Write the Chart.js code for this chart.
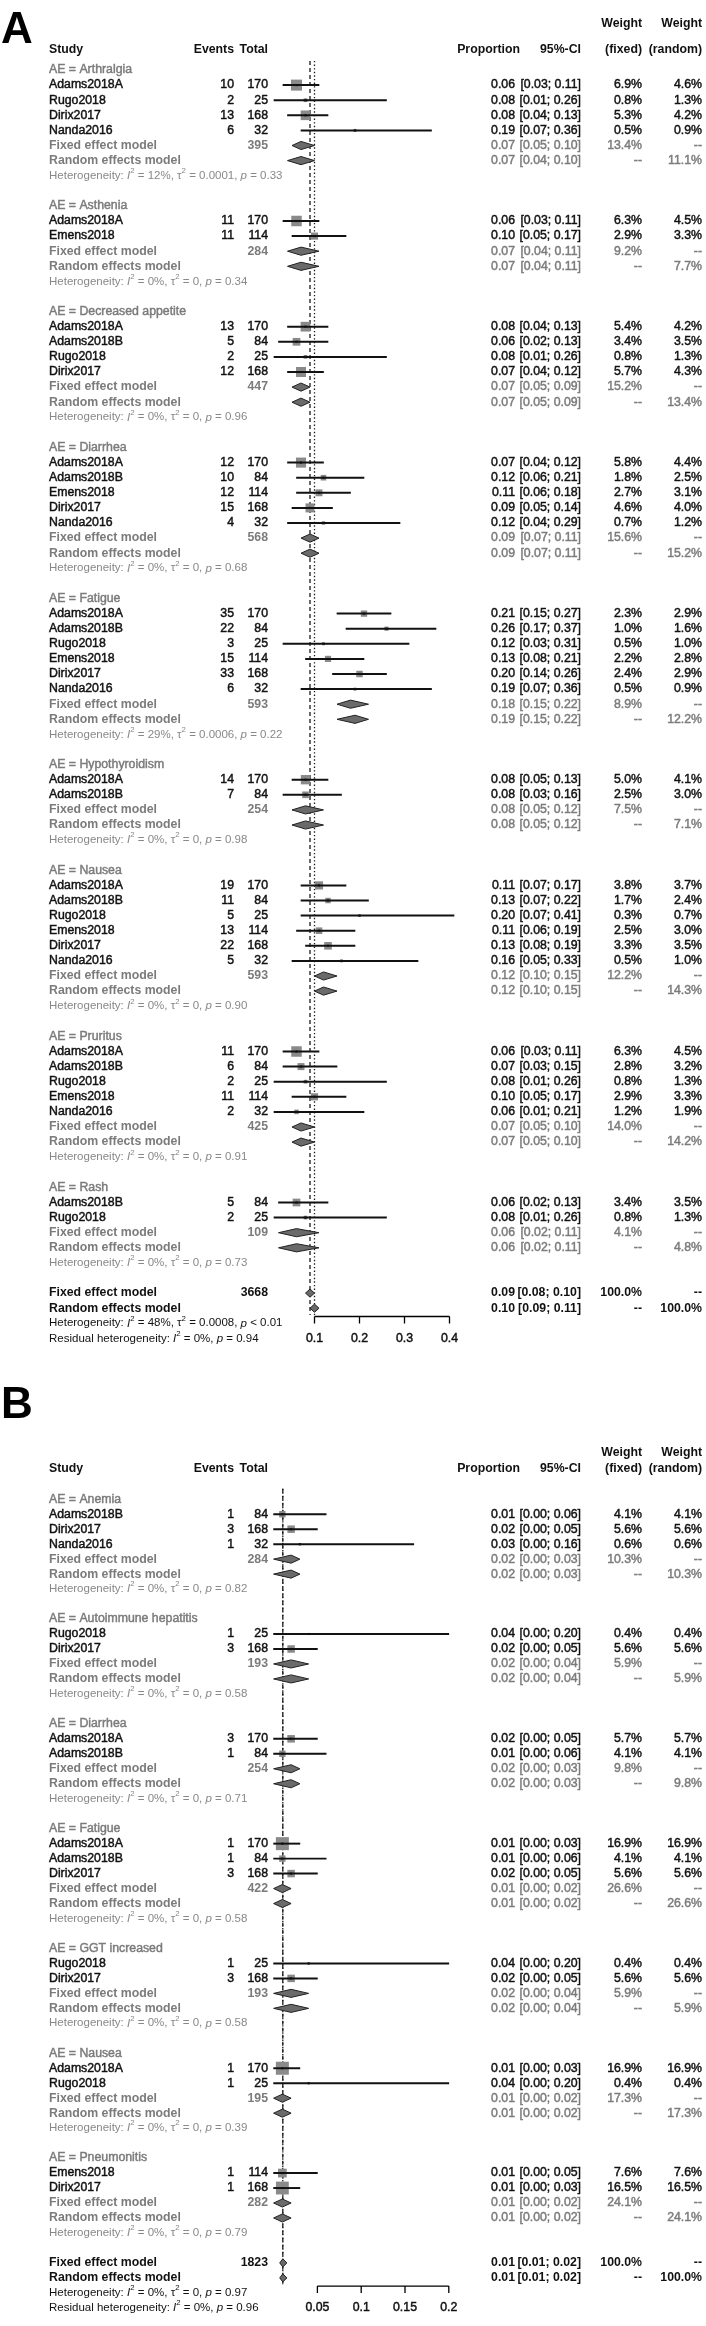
<!DOCTYPE html>
<html>
<head>
<meta charset="utf-8">
<title>Forest plots of adverse events</title>
<script src="https://cdn.jsdelivr.net/npm/chart.js@4.4.1/dist/chart.umd.min.js"></script>
<style>
html, body { margin: 0; padding: 0; background: #fff; }
#wrap { position: relative; width: 706px; height: 2326px; }
#wrap canvas { position: absolute; left: 0; top: 0; }
</style>
</head>
<body>
<div id="wrap">
<canvas id="forestA" width="706" height="2326"></canvas>
<canvas id="forestB" width="706" height="2326"></canvas>
</div>
<script>
// ---------- Panel A ----------
const aeA = ['Arthralgia', 'Asthenia', 'Decreased appetite', 'Diarrhea', 'Fatigue', 'Hypothyroidism', 'Nausea', 'Pruritus', 'Rash'];
const studyA = [
    ['Adams2018A', 'Rugo2018', 'Dirix2017', 'Nanda2016'],
    ['Adams2018A', 'Emens2018'],
    ['Adams2018A', 'Adams2018B', 'Rugo2018', 'Dirix2017'],
    ['Adams2018A', 'Adams2018B', 'Emens2018', 'Dirix2017', 'Nanda2016'],
    ['Adams2018A', 'Adams2018B', 'Rugo2018', 'Emens2018', 'Dirix2017', 'Nanda2016'],
    ['Adams2018A', 'Adams2018B'],
    ['Adams2018A', 'Adams2018B', 'Rugo2018', 'Emens2018', 'Dirix2017', 'Nanda2016'],
    ['Adams2018A', 'Adams2018B', 'Rugo2018', 'Emens2018', 'Nanda2016'],
    ['Adams2018B', 'Rugo2018']
];
const eventsA = [[10, 2, 13, 6], [11, 11], [13, 5, 2, 12], [12, 10, 12, 15, 4], [35, 22, 3, 15, 33, 6], [14, 7], [19, 11, 5, 13, 22, 5], [11, 6, 2, 11, 2], [5, 2]];
const totalA = [[170, 25, 168, 32], [170, 114], [170, 84, 25, 168], [170, 84, 114, 168, 32], [170, 84, 25, 114, 168, 32], [170, 84], [170, 84, 25, 114, 168, 32], [170, 84, 25, 114, 32], [84, 25]];
const propA = [[0.06, 0.08, 0.08, 0.19], [0.06, 0.10], [0.08, 0.06, 0.08, 0.07], [0.07, 0.12, 0.11, 0.09, 0.12], [0.21, 0.26, 0.12, 0.13, 0.20, 0.19], [0.08, 0.08], [0.11, 0.13, 0.20, 0.11, 0.13, 0.16], [0.06, 0.07, 0.08, 0.10, 0.06], [0.06, 0.08]];
const lowerA = [[0.03, 0.01, 0.04, 0.07], [0.03, 0.05], [0.04, 0.02, 0.01, 0.04], [0.04, 0.06, 0.06, 0.05, 0.04], [0.15, 0.17, 0.03, 0.08, 0.14, 0.07], [0.05, 0.03], [0.07, 0.07, 0.07, 0.06, 0.08, 0.05], [0.03, 0.03, 0.01, 0.05, 0.01], [0.02, 0.01]];
const upperA = [[0.11, 0.26, 0.13, 0.36], [0.11, 0.17], [0.13, 0.13, 0.26, 0.12], [0.12, 0.21, 0.18, 0.14, 0.29], [0.27, 0.37, 0.31, 0.21, 0.26, 0.36], [0.13, 0.16], [0.17, 0.22, 0.41, 0.19, 0.19, 0.33], [0.11, 0.15, 0.26, 0.17, 0.21], [0.13, 0.26]];
const wFixedA = [[6.9, 0.8, 5.3, 0.5], [6.3, 2.9], [5.4, 3.4, 0.8, 5.7], [5.8, 1.8, 2.7, 4.6, 0.7], [2.3, 1.0, 0.5, 2.2, 2.4, 0.5], [5.0, 2.5], [3.8, 1.7, 0.3, 2.5, 3.3, 0.5], [6.3, 2.8, 0.8, 2.9, 1.2], [3.4, 0.8]];
const wRandomA = [[4.6, 1.3, 4.2, 0.9], [4.5, 3.3], [4.2, 3.5, 1.3, 4.3], [4.4, 2.5, 3.1, 4.0, 1.2], [2.9, 1.6, 1.0, 2.8, 2.9, 0.9], [4.1, 3.0], [3.7, 2.4, 0.7, 3.0, 3.5, 1.0], [4.5, 3.2, 1.3, 3.3, 1.9], [3.5, 1.3]];
// subgroup pooled results: [estimate, lower, upper]
const fixedA = [[0.07, 0.05, 0.10], [0.07, 0.04, 0.11], [0.07, 0.05, 0.09], [0.09, 0.07, 0.11], [0.18, 0.15, 0.22], [0.08, 0.05, 0.12], [0.12, 0.10, 0.15], [0.07, 0.05, 0.10], [0.06, 0.02, 0.11]];
const randomA = [[0.07, 0.04, 0.10], [0.07, 0.04, 0.11], [0.07, 0.05, 0.09], [0.09, 0.07, 0.11], [0.19, 0.15, 0.22], [0.08, 0.05, 0.12], [0.12, 0.10, 0.15], [0.07, 0.05, 0.10], [0.06, 0.02, 0.11]];
const nA = [395, 284, 447, 568, 593, 254, 593, 425, 109];
const wFixedSubA = [13.4, 9.2, 15.2, 15.6, 8.9, 7.5, 12.2, 14.0, 4.1];
const wRandomSubA = [11.1, 7.7, 13.4, 15.2, 12.2, 7.1, 14.3, 14.2, 4.8];
const i2A = ['12%', '0%', '0%', '0%', '29%', '0%', '0%', '0%', '0%'];
const tau2A = ['0.0001', '0', '0', '0', '0.0006', '0', '0', '0', '0'];
const pA = ['0.33', '0.34', '0.96', '0.68', '0.22', '0.98', '0.90', '0.91', '0.73'];
const overallFixedA = [0.09, 0.08, 0.10];
const overallRandomA = [0.10, 0.09, 0.11];
const overallNA = 3668;
const overallHetA = ['48%', '0.0008', '< 0.01'];
const residualHetA = ['0%', '0.94'];
const ticksA = [0.1, 0.2, 0.3, 0.4];

// ---------- Panel B ----------
const aeB = ['Anemia', 'Autoimmune hepatitis', 'Diarrhea', 'Fatigue', 'GGT increased', 'Nausea', 'Pneumonitis'];
const studyB = [
    ['Adams2018B', 'Dirix2017', 'Nanda2016'],
    ['Rugo2018', 'Dirix2017'],
    ['Adams2018A', 'Adams2018B'],
    ['Adams2018A', 'Adams2018B', 'Dirix2017'],
    ['Rugo2018', 'Dirix2017'],
    ['Adams2018A', 'Rugo2018'],
    ['Emens2018', 'Dirix2017']
];
const eventsB = [[1, 3, 1], [1, 3], [3, 1], [1, 1, 3], [1, 3], [1, 1], [1, 1]];
const totalB = [[84, 168, 32], [25, 168], [170, 84], [170, 84, 168], [25, 168], [170, 25], [114, 168]];
const propB = [[0.01, 0.02, 0.03], [0.04, 0.02], [0.02, 0.01], [0.01, 0.01, 0.02], [0.04, 0.02], [0.01, 0.04], [0.01, 0.01]];
const lowerB = [[0.00, 0.00, 0.00], [0.00, 0.00], [0.00, 0.00], [0.00, 0.00, 0.00], [0.00, 0.00], [0.00, 0.00], [0.00, 0.00]];
const upperB = [[0.06, 0.05, 0.16], [0.20, 0.05], [0.05, 0.06], [0.03, 0.06, 0.05], [0.20, 0.05], [0.03, 0.20], [0.05, 0.03]];
const wFixedB = [[4.1, 5.6, 0.6], [0.4, 5.6], [5.7, 4.1], [16.9, 4.1, 5.6], [0.4, 5.6], [16.9, 0.4], [7.6, 16.5]];
const wRandomB = [[4.1, 5.6, 0.6], [0.4, 5.6], [5.7, 4.1], [16.9, 4.1, 5.6], [0.4, 5.6], [16.9, 0.4], [7.6, 16.5]];
const fixedB = [[0.02, 0.00, 0.03], [0.02, 0.00, 0.04], [0.02, 0.00, 0.03], [0.01, 0.00, 0.02], [0.02, 0.00, 0.04], [0.01, 0.00, 0.02], [0.01, 0.00, 0.02]];
const randomB = [[0.02, 0.00, 0.03], [0.02, 0.00, 0.04], [0.02, 0.00, 0.03], [0.01, 0.00, 0.02], [0.02, 0.00, 0.04], [0.01, 0.00, 0.02], [0.01, 0.00, 0.02]];
const nB = [284, 193, 254, 422, 193, 195, 282];
const wFixedSubB = [10.3, 5.9, 9.8, 26.6, 5.9, 17.3, 24.1];
const wRandomSubB = [10.3, 5.9, 9.8, 26.6, 5.9, 17.3, 24.1];
const i2B = ['0%', '0%', '0%', '0%', '0%', '0%', '0%'];
const tau2B = ['0', '0', '0', '0', '0', '0', '0'];
const pB = ['0.82', '0.58', '0.71', '0.58', '0.58', '0.39', '0.79'];
const overallFixedB = [0.0105, 0.007, 0.0152];
const overallRandomB = [0.0105, 0.007, 0.0152];
const overallNB = 1823;
const overallHetB = ['0%', '0', '0.97'];
const residualHetB = ['0%', '0.96'];
const ticksB = [0.05, 0.1, 0.15, 0.2];

// ---------- drawing ----------
const FONT = '"Liberation Sans", Arial, Helvetica, sans-serif';
const FS = 12.3;
const BLACK = '#111111';
const GRAY = '#7b7b7b';
const HETGRAY = '#888888';
const COL = { study: 49, events: 234, total: 268, prop: 515, ci: 581, wf: 642, wr: 702 };

const fmt2 = v => v.toFixed(2);
const ciText = (lo, hi) => '[' + fmt2(lo) + '; ' + fmt2(hi) + ']';
const pct = w => w.toFixed(1) + '%';
const pText = p => p.charAt(0) === '<' ? ' ' + p : ' = ' + p;

const panelA = {
    id: 'forestA', letter: 'A', letterY: 43, headY: [24, 50],
    ae: aeA, study: studyA, events: eventsA, total: totalA, prop: propA, lower: lowerA, upper: upperA,
    wFixed: wFixedA, wRandom: wRandomA, fixed: fixedA, random: randomA, n: nA,
    wFixedSub: wFixedSubA, wRandomSub: wRandomSubA, i2: i2A, tau2: tau2A, p: pA,
    allFixed: overallFixedA, allRandom: overallRandomA, allN: overallNA, allHet: overallHetA, resHet: residualHetA,
    ticks: ticksA,
    row0: 70, rowH: 15.1, yMin: -4, yMax: 85, lineTop: -0.6,
    x0: 269.5, xPer: 450, xMax: 0.45, maxSide: 11
};
const panelB = {
    id: 'forestB', letter: 'B', letterY: 1418, headY: [1453, 1469],
    ae: aeB, study: studyB, events: eventsB, total: totalB, prop: propB, lower: lowerB, upper: upperB,
    wFixed: wFixedB, wRandom: wRandomB, fixed: fixedB, random: randomB, n: nB,
    wFixedSub: wFixedSubB, wRandomSub: wRandomSubB, i2: i2B, tau2: tau2B, p: pB,
    allFixed: overallFixedB, allRandom: overallRandomB, allN: overallNB, allHet: overallHetB, resHet: residualHetB,
    ticks: ticksB,
    row0: 1500, rowH: 15.1, yMin: -6, yMax: 54.6, lineTop: -0.7,
    x0: 273.6, xPer: 876, xMax: 0.22, maxSide: 13
};

function buildRows(P) {
    const rows = [];
    let r = 0;
    P.ae.forEach((ae, g) => {
        rows.push({ kind: 'label', r: r++, g });
        P.study[g].forEach((s, i) => rows.push({ kind: 'study', r: r++, g, i }));
        rows.push({ kind: 'fixed', r: r++, g });
        rows.push({ kind: 'random', r: r++, g });
        rows.push({ kind: 'het', r: r++, g });
        r++; // blank line between subgroups
    });
    rows.push({ kind: 'allFixed', r: r });
    rows.push({ kind: 'allRandom', r: r + 1 });
    rows.push({ kind: 'allHet', r: r + 2 });
    rows.push({ kind: 'resHet', r: r + 3 });
    return rows;
}

function diamond(res, r) {
    const h = 0.27;
    return [
        { x: res[1], y: r }, { x: res[0], y: r - h }, { x: res[2], y: r },
        { x: res[0], y: r + h }, { x: res[1], y: r }
    ];
}

// plain text gets a hairline stroke so it reads as heavy as the scanned figure
function put(ctx, s, x, y, align, color, weight) {
    ctx.font = (weight === 'bold' ? 'bold ' : '') + FS + 'px ' + FONT;
    ctx.fillStyle = color;
    ctx.textAlign = align;
    ctx.textBaseline = 'middle';
    ctx.fillText(s, x, y);
    if (weight !== 'bold') {
        ctx.strokeStyle = color;
        ctx.lineWidth = 0.45;
        ctx.strokeText(s, x, y);
    }
}

function drawRuns(ctx, runs, x, y, size, color) {
    let cx = x;
    ctx.textAlign = 'left';
    ctx.textBaseline = 'middle';
    ctx.fillStyle = color;
    runs.forEach(([s, style]) => {
        let dy = 0;
        ctx.font = size + 'px ' + FONT;
        if (style === 'i') ctx.font = 'italic ' + size + 'px ' + FONT;
        if (style === 'sup') { ctx.font = (size * 0.68) + 'px ' + FONT; dy = -size * 0.42; }
        ctx.fillText(s, cx, y + dy);
        cx += ctx.measureText(s).width;
    });
}

function hetRuns(i2, tau2, p) {
    return [['Heterogeneity: '], ['I', 'i'], ['2', 'sup'], [' = ' + i2 + ', '], ['\u03c4'], ['2', 'sup'],
        [' = ' + tau2 + ', '], ['p', 'i'], [pText(p)]];
}

function textPlugin(P, rows) {
    return {
        id: 'forestText' + P.letter,
        afterDraw(chart) {
            const ctx = chart.ctx;
            const xs = chart.scales.x;
            const Y = r => chart.scales.y.getPixelForValue(r);
            ctx.save();

            // panel letter
            ctx.font = 'bold 44px ' + FONT;
            ctx.fillStyle = '#000';
            ctx.textAlign = 'left';
            ctx.textBaseline = 'alphabetic';
            ctx.fillText(P.letter, 1, P.letterY);

            // column headers
            const [h1, h2] = P.headY;
            put(ctx, 'Study', COL.study, h2, 'left', BLACK, 'bold');
            put(ctx, 'Events', COL.events, h2, 'right', BLACK, 'bold');
            put(ctx, 'Total', COL.total, h2, 'right', BLACK, 'bold');
            put(ctx, 'Proportion', COL.prop + 5, h2, 'right', BLACK, 'bold');
            put(ctx, '95%-CI', COL.ci, h2, 'right', BLACK, 'bold');
            put(ctx, 'Weight', COL.wf, h1, 'right', BLACK, 'bold');
            put(ctx, '(fixed)', COL.wf, h2, 'right', BLACK, 'bold');
            put(ctx, 'Weight', COL.wr, h1, 'right', BLACK, 'bold');
            put(ctx, '(random)', COL.wr, h2, 'right', BLACK, 'bold');

            rows.forEach(row => {
                const y = Y(row.r);
                const g = row.g;
                if (row.kind === 'label') {
                    put(ctx, 'AE = ' + P.ae[g], COL.study, y, 'left', GRAY);
                } else if (row.kind === 'study') {
                    const i = row.i;
                    put(ctx, P.study[g][i], COL.study, y, 'left', BLACK);
                    put(ctx, String(P.events[g][i]), COL.events, y, 'right', BLACK);
                    put(ctx, String(P.total[g][i]), COL.total, y, 'right', BLACK);
                    put(ctx, fmt2(P.prop[g][i]), COL.prop, y, 'right', BLACK);
                    put(ctx, ciText(P.lower[g][i], P.upper[g][i]), COL.ci, y, 'right', BLACK);
                    put(ctx, pct(P.wFixed[g][i]), COL.wf, y, 'right', BLACK);
                    put(ctx, pct(P.wRandom[g][i]), COL.wr, y, 'right', BLACK);
                } else if (row.kind === 'fixed' || row.kind === 'random') {
                    const fx = row.kind === 'fixed';
                    const res = fx ? P.fixed[g] : P.random[g];
                    put(ctx, fx ? 'Fixed effect model' : 'Random effects model', COL.study, y, 'left', GRAY, 'bold');
                    if (fx) put(ctx, String(P.n[g]), COL.total, y, 'right', GRAY, 'bold');
                    put(ctx, fmt2(res[0]), COL.prop, y, 'right', GRAY);
                    put(ctx, ciText(res[1], res[2]), COL.ci, y, 'right', GRAY);
                    put(ctx, fx ? pct(P.wFixedSub[g]) : '--', COL.wf, y, 'right', GRAY);
                    put(ctx, fx ? '--' : pct(P.wRandomSub[g]), COL.wr, y, 'right', GRAY);
                } else if (row.kind === 'het') {
                    drawRuns(ctx, hetRuns(P.i2[g], P.tau2[g], P.p[g]), COL.study, y, 11.5, HETGRAY);
                } else if (row.kind === 'allFixed' || row.kind === 'allRandom') {
                    const fx = row.kind === 'allFixed';
                    const res = fx ? P.allFixed : P.allRandom;
                    put(ctx, fx ? 'Fixed effect model' : 'Random effects model', COL.study, y, 'left', BLACK, 'bold');
                    if (fx) put(ctx, String(P.allN), COL.total, y, 'right', BLACK, 'bold');
                    put(ctx, fmt2(res[0]), COL.prop, y, 'right', BLACK, 'bold');
                    put(ctx, ciText(res[1], res[2]), COL.ci, y, 'right', BLACK, 'bold');
                    put(ctx, fx ? '100.0%' : '--', COL.wf, y, 'right', BLACK, 'bold');
                    put(ctx, fx ? '--' : '100.0%', COL.wr, y, 'right', BLACK, 'bold');
                } else if (row.kind === 'allHet') {
                    drawRuns(ctx, hetRuns(P.allHet[0], P.allHet[1], P.allHet[2]), COL.study, y, 11.5, BLACK);
                } else if (row.kind === 'resHet') {
                    drawRuns(ctx, [['Residual heterogeneity: '], ['I', 'i'], ['2', 'sup'], [' = ' + P.resHet[0] + ', '],
                        ['p', 'i'], [pText(P.resHet[1])]], COL.study, y, 11.5, BLACK);
                }
            });

            // x axis below the pooled rows
            const last = rows.find(r => r.kind === 'allRandom').r;
            const yLine = Y(last + 0.55);
            const yTick = yLine + 7;
            ctx.strokeStyle = '#000';
            ctx.lineWidth = 1.3;
            ctx.setLineDash([]);
            ctx.beginPath();
            ctx.moveTo(xs.getPixelForValue(P.ticks[0]), yLine);
            ctx.lineTo(xs.getPixelForValue(P.ticks[P.ticks.length - 1]), yLine);
            P.ticks.forEach(t => {
                const x = xs.getPixelForValue(t);
                ctx.moveTo(x, yLine);
                ctx.lineTo(x, yTick);
            });
            ctx.stroke();
            P.ticks.forEach(t => put(ctx, String(t), xs.getPixelForValue(t), Y(last + 2), 'center', BLACK));
            ctx.restore();
        }
    };
}

function makeChart(P) {
    const rows = buildRows(P);
    const maxW = Math.max(...P.wFixed.flat());
    const whiskers = [], squares = [], sizes = [], dots = [], diamonds = [];
    rows.forEach(row => {
        const g = row.g;
        if (row.kind === 'study') {
            const i = row.i;
            whiskers.push({ y: row.r, x: [P.lower[g][i], P.upper[g][i]] });
            squares.push({ x: P.prop[g][i], y: row.r });
            sizes.push(Math.max(1.2, P.maxSide * Math.sqrt(P.wFixed[g][i] / maxW) / Math.SQRT2));
            dots.push({ x: P.prop[g][i], y: row.r });
        } else if (row.kind === 'fixed') {
            diamonds.push(diamond(P.fixed[g], row.r));
        } else if (row.kind === 'random') {
            diamonds.push(diamond(P.random[g], row.r));
        } else if (row.kind === 'allFixed') {
            diamonds.push(diamond(P.allFixed, row.r));
        } else if (row.kind === 'allRandom') {
            diamonds.push(diamond(P.allRandom, row.r));
        }
    });
    const lineEnd = rows.find(r => r.kind === 'allRandom').r + 0.45;

    const datasets = [
        {
            type: 'line', label: 'fixed', data: [{ x: P.allFixed[0], y: P.lineTop }, { x: P.allFixed[0], y: lineEnd }],
            borderColor: '#1a1a1a', borderWidth: 1.3, borderDash: [4, 3], pointRadius: 0, fill: false, order: 6
        },
        {
            type: 'line', label: 'random', data: [{ x: P.allRandom[0], y: P.lineTop }, { x: P.allRandom[0], y: lineEnd }],
            borderColor: '#1a1a1a', borderWidth: 1.3, borderDash: [1.4, 2.2], pointRadius: 0, fill: false, order: 6
        },
        {
            type: 'scatter', label: 'weight', data: squares, pointStyle: 'rect', pointRadius: sizes,
            backgroundColor: '#8a8a8a', borderWidth: 0, order: 5
        },
        {
            type: 'bar', label: 'ci', indexAxis: 'y', data: whiskers, backgroundColor: BLACK,
            barThickness: 1.3, borderWidth: 0, order: 4
        },
        {
            type: 'scatter', label: 'estimate', data: dots, pointStyle: 'rect', pointRadius: 1.5,
            backgroundColor: BLACK, borderWidth: 0, order: 3
        }
    ];
    diamonds.forEach(d => datasets.push({
        type: 'line', data: d, borderColor: '#222', borderWidth: 1, backgroundColor: '#6a6a6a',
        fill: 'shape', pointRadius: 0, tension: 0, order: 1
    }));

    const H = 2326, W = 706;
    return new Chart(document.getElementById(P.id), {
        type: 'scatter',
        data: { datasets: datasets },
        options: {
            responsive: false,
            animation: false,
            devicePixelRatio: 1,
            events: [],
            layout: {
                padding: {
                    left: P.x0,
                    right: W - (P.x0 + P.xMax * P.xPer),
                    top: P.row0 + P.yMin * P.rowH,
                    bottom: H - (P.row0 + P.yMax * P.rowH)
                }
            },
            scales: {
                x: { type: 'linear', display: false, min: 0, max: P.xMax, offset: false },
                y: { type: 'linear', display: false, reverse: true, min: P.yMin, max: P.yMax, offset: false }
            },
            datasets: { line: { clip: false }, scatter: { clip: false }, bar: { clip: false } },
            plugins: { legend: { display: false }, tooltip: { enabled: false } }
        },
        plugins: [textPlugin(P, rows)]
    });
}

makeChart(panelA);
makeChart(panelB);
</script>
</body>
</html>
